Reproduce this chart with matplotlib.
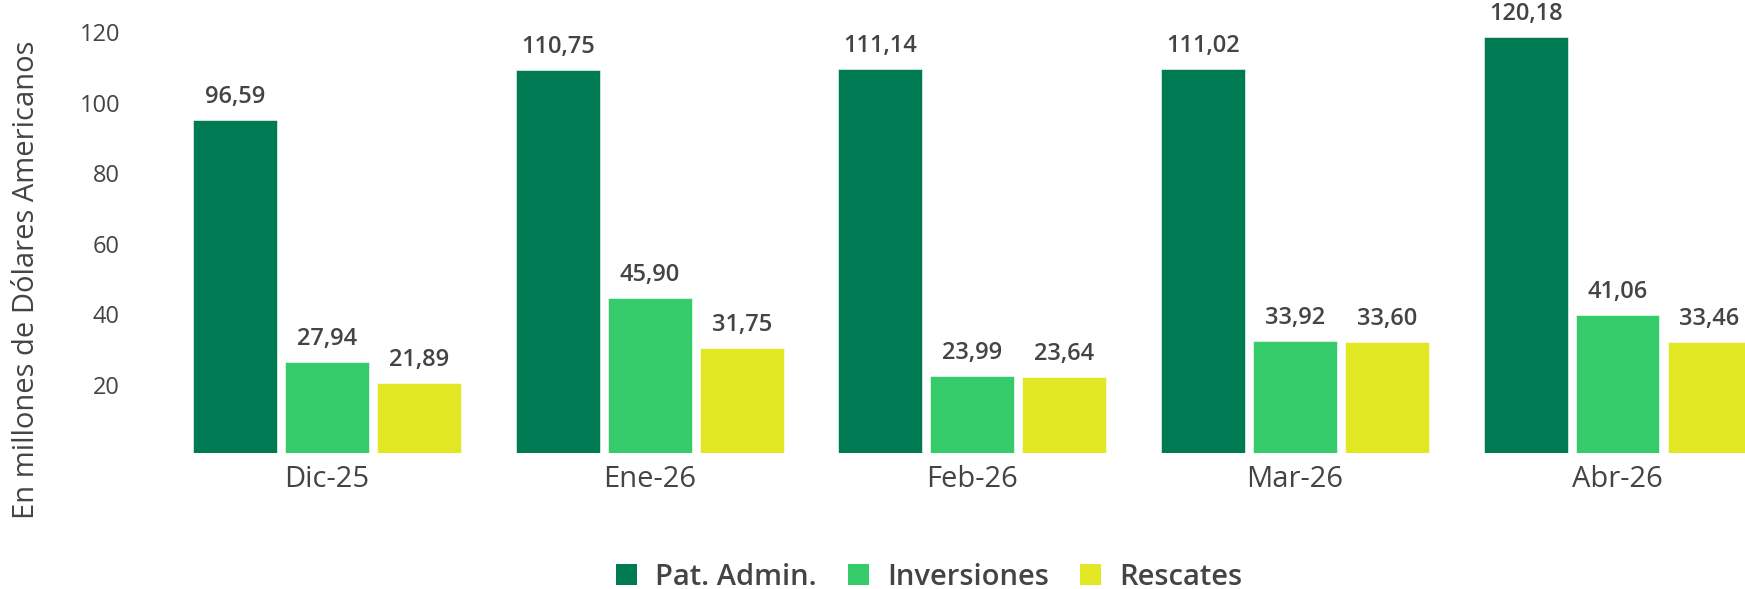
import matplotlib.pyplot as plt
import numpy as np
from matplotlib.patches import Patch
from matplotlib.transforms import ScaledTranslation

plt.rcParams['font.family'] = ['Open Sans', 'DejaVu Sans']

# data
months = ['Dic-25', 'Ene-26', 'Feb-26', 'Mar-26', 'Abr-26']
series = ['Pat. Admin.', 'Inversiones', 'Rescates']
pat_admin = [96.59, 110.75, 111.14, 111.02, 120.18]
inversiones = [27.94, 45.90, 23.99, 33.92, 41.06]
rescates = [21.89, 31.75, 23.64, 33.60, 33.46]
colors = ['#007A53', '#35CB6A', '#E1E823']
text_col = '#444444'

fig = plt.figure(figsize=(17.45, 5.89), dpi=100)
# axes runs a bit past the right edge, like the cropped original
ax = fig.add_axes([0.0950, 0.2309, 0.9244, 0.7691])

x = np.arange(len(months))
step = 0.285
width = 0.26
for i, (vals, col) in enumerate(zip([pat_admin, inversiones, rescates], colors)):
    pos = x + (i - 1) * step
    ax.bar(pos, vals, width=width, color=col, edgecolor='white', linewidth=0.4)
    for px, v in zip(pos, vals):
        ax.annotate(f'{v:.2f}'.replace('.', ','), (px, v), xytext=(0, 16.5),
                    textcoords='offset points', ha='center', va='center',
                    fontsize=17, fontweight='semibold', color=text_col)

ax.set_xlim(-0.5, 4.5)
ax.set_ylim(2.0, 130.6)
ax.set_xticks(x)
ax.set_xticklabels(months)
ax.set_yticks([20, 40, 60, 80, 100, 120])
ax.tick_params(axis='x', length=0, pad=9, labelsize=21, labelcolor=text_col)
ax.tick_params(axis='y', length=0, pad=33, labelsize=17, labelcolor=text_col)
for lab in ax.get_yticklabels():
    lab.set_transform(lab.get_transform() + ScaledTranslation(0, 5 / 100, fig.dpi_scale_trans))
for s in ax.spines.values():
    s.set_visible(False)

fig.text(27 / 1745, 1 - 280 / 589, 'En millones de Dólares Americanos', rotation=90,
         ha='center', va='center', fontsize=21, color=text_col)

handles = [Patch(facecolor=c, edgecolor='none') for c in colors]
leg = fig.legend(handles, series, loc='center', bbox_to_anchor=(0.5327, 0.020),
                 ncol=3, frameon=False, handlelength=0.72, handleheight=0.72,
                 handletextpad=0.62, columnspacing=1.07, borderpad=0,
                 prop={'size': 21, 'weight': 'semibold'})
for t in leg.get_texts():
    t.set_color(text_col)

fig.savefig('out.png', dpi=100)
